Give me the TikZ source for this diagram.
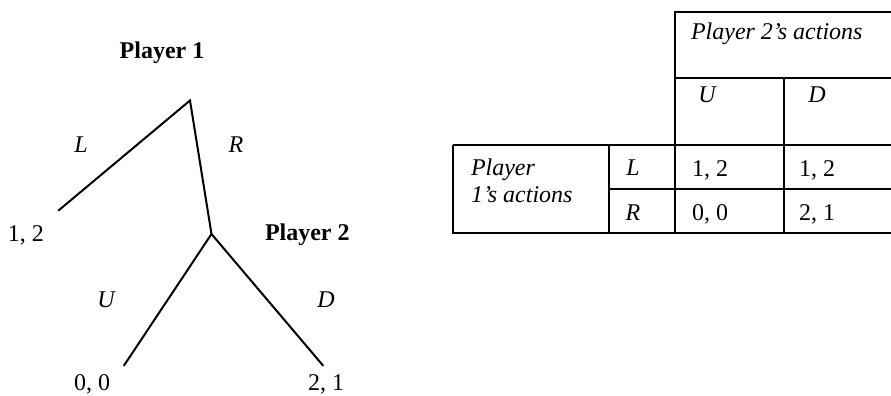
\documentclass[tikz,border=0pt]{standalone}
\usepackage{fontspec}
\setmainfont{Liberation Serif}
\begin{document}
\begin{tikzpicture}[x=1pt,y=-1pt,
  every node/.style={inner sep=0pt,outer sep=0pt,font=\fontsize{24}{28}\selectfont},
  branch/.style={line width=2pt,line cap=round},
  grid/.style={line width=1.4pt},
  lbl/.style={font=\fontsize{24}{28}\selectfont\itshape},
  bold/.style={font=\fontsize{24}{28}\selectfont\bfseries}]
\useasboundingbox (0,0) rectangle (891,396);
% tree
\coordinate (root) at (190,100.5);
\coordinate (leafL) at (58.5,210.5);
\coordinate (p2) at (211.5,234);
\coordinate (leafU) at (124,365.5);
\coordinate (leafD) at (323,365.5);
\draw[branch] (leafL) -- (root) -- (p2);
\draw[branch] (leafU) -- (p2) -- (leafD);
\node[bold,anchor=base] (pl1) at (162,59) {Player 1};
\node[bold,anchor=base west] (pl2) at (265,240) {Player 2};
\node[lbl,anchor=base] (lL) at (81,152) {L};
\node[lbl,anchor=base] (lR) at (236,152) {R};
\node[lbl,anchor=base] (lU) at (106,307) {U};
\node[lbl,anchor=base] (lD) at (326,307) {D};
\node[anchor=base] (o12) at (26,241) {1, 2};
\node[anchor=base] (o00) at (92,390) {0, 0};
\node[anchor=base] (o21) at (326,390) {2, 1};
% table
\draw[grid] (891,12) -- (675,12) -- (675,233);
\draw[grid] (675,78) -- (891,78);
\draw[grid] (453,145) -- (891,145);
\draw[grid] (609,189) -- (891,189);
\draw[grid] (453,145) -- (453,233) -- (891,233);
\draw[grid] (609,145) -- (609,233);
\draw[grid] (784,78) -- (784,233);
\node[lbl,anchor=base west] (t2) at (691,40) {Player 2's actions};
\node[lbl,anchor=base] (tU) at (707,102) {U};
\node[lbl,anchor=base] (tD) at (817,102) {D};
\node[lbl,anchor=base west] (t1a) at (471,175) {Player};
\node[lbl,anchor=base west] (t1b) at (471,202) {1's actions};
\node[lbl,anchor=base] (tL) at (633,175) {L};
\node[lbl,anchor=base] (tR) at (633,220) {R};
\node[anchor=base] (c11) at (710,176) {1, 2};
\node[anchor=base] (c12) at (817,176) {1, 2};
\node[anchor=base] (c21) at (710,220) {0, 0};
\node[anchor=base] (c22) at (817,220) {2, 1};
\end{tikzpicture}
\end{document}
